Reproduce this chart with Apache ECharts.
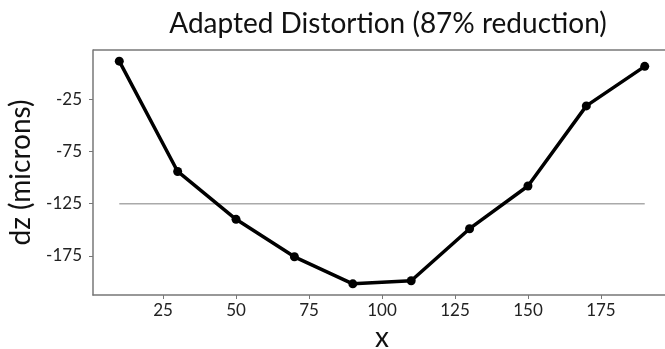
<!DOCTYPE html>
<html>
<head>
<meta charset="utf-8">
<script src="https://cdn.jsdelivr.net/npm/echarts@6.0.0/dist/echarts.min.js"></script>
<style>html,body{margin:0;padding:0;background:#fff;}#c{width:665px;height:349px;}</style>
</head>
<body>
<div id="c"></div>
<script>
var xValues = [10, 30, 50, 70, 90, 110, 130, 150, 170, 190];
var dzValues = [12, -94, -140, -176, -202, -199, -149, -108, -31, 7];
var refLevel = -125;
var xTicks = [25, 50, 75, 100, 125, 150, 175];
var yTicks = [-175, -125, -75, -25];

var font = 'Lato';
var chart = echarts.init(document.getElementById('c'), null, {renderer: 'canvas'});
var mainData = xValues.map(function (x, i) { return [x, dzValues[i]]; });
var refData = [[xValues[0], refLevel], [xValues[xValues.length - 1], refLevel]];

chart.setOption({
  animation: false,
  backgroundColor: '#fff',
  title: {
    text: 'Adapted Distortion (87% reduction)',
    left: 383, top: 5, textAlign: 'center',
    textStyle: {fontFamily: font, fontSize: 28, fontWeight: 'normal', color: '#111'}
  },
  grid: {left: 93, top: 50, width: 578, height: 245, containLabel: false, outerBoundsMode: 'none'},
  xAxis: {
    type: 'value', min: 1, max: 199,
    name: 'x', nameLocation: 'middle', nameGap: 27,
    nameTextStyle: {fontFamily: font, fontSize: 28, color: '#111'},
    axisLine: {show: true, onZero: false, lineStyle: {color: '#777', width: 1.5}},
    axisTick: {show: true, customValues: xTicks, length: 4, lineStyle: {color: '#777'}},
    axisLabel: {customValues: xTicks, fontFamily: font, fontSize: 17, color: '#222', margin: 7},
    splitLine: {show: false}
  },
  yAxis: {
    type: 'value', min: -212.7, max: 22.7,
    name: 'dz (microns)', nameLocation: 'middle', nameGap: 56, nameRotate: 90,
    nameTextStyle: {fontFamily: font, fontSize: 28, color: '#111'},
    axisLine: {show: true, onZero: false, lineStyle: {color: '#777', width: 1.5}},
    axisTick: {show: true, customValues: yTicks, length: 4, lineStyle: {color: '#777'}},
    axisLabel: {customValues: yTicks, fontFamily: font, fontSize: 17, color: '#222', margin: 11},
    splitLine: {show: false}
  },
  series: [
    {
      type: 'line', data: refData, symbol: 'none', z: 1,
      lineStyle: {color: '#aaaaaa', width: 1.5}
    },
    {
      type: 'line', data: mainData, symbol: 'circle', symbolSize: 9, z: 3,
      lineStyle: {color: '#000', width: 3.5}, itemStyle: {color: '#000'}
    }
  ],
  graphic: [
    {type: 'line', shape: {x1: 93, y1: 50, x2: 671, y2: 50}, style: {stroke: '#777', lineWidth: 1.5}, z: 10}
  ]
});
</script>
</body>
</html>
